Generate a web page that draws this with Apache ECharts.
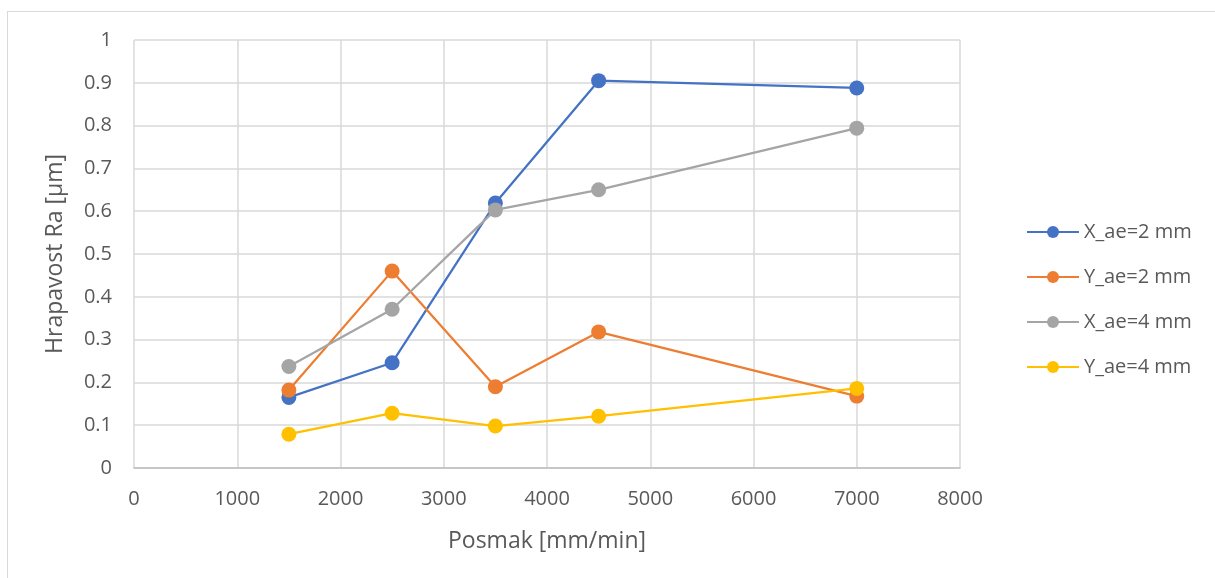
<!DOCTYPE html>
<html>
<head>
<meta charset="utf-8">
<script src="https://cdn.jsdelivr.net/npm/echarts@6/dist/echarts.min.js"></script>
<style>
body { margin: 0px; background: #fff; }
#frame { position: absolute; left: 7px; top: 11px; width: 1210px; height: 570px; border: 1px solid #d9d9d9; box-sizing: border-box; }
#main1 { width: 1215px; height: 578px; position: absolute; left: 0; top: 0; }
</style>
</head>
<body>
<div id="frame"></div>
<div id="main1"></div>
<script>
var feed = [1500, 2500, 3500, 4500, 7000];
var xAe2 = [0.165, 0.246, 0.619, 0.905, 0.888];
var yAe2 = [0.182, 0.46, 0.19, 0.318, 0.168];
var xAe4 = [0.237, 0.371, 0.603, 0.65, 0.794];
var yAe4 = [0.079, 0.128, 0.098, 0.121, 0.186];
var names = ['X_ae=2 mm', 'Y_ae=2 mm', 'X_ae=4 mm', 'Y_ae=4 mm'];
var colors = ['#4472C4', '#ED7D31', '#A5A5A5', '#FFC000'];

function pairs(vals) {
	var out = [];
	for (var i = 0; i < feed.length; i++) {
		out.push([feed[i], vals[i]]);
	}
	return out;
}

var myChart = echarts.init(document.getElementById('main1'));
var font = '"Open Sans", sans-serif';
var all = [xAe2, yAe2, xAe4, yAe4];
var series = [];
for (var k = 0; k < all.length; k++) {
	series.push({
		name: names[k],
		type: 'line',
		data: pairs(all[k]),
		symbol: 'circle',
		symbolSize: 15,
		lineStyle: { width: 2.25, color: colors[k] },
		itemStyle: { color: colors[k] },
		z: 10 + k
	});
}

var option = {
	animation: false,
	textStyle: { fontFamily: font },
	legend: {
		orient: 'vertical',
		left: 1021,
		top: 217,
		itemGap: 25,
		itemWidth: 52,
		itemHeight: 15,
		textStyle: { fontSize: 20, color: '#595959', fontFamily: font },
		data: names
	},
	grid: { left: 134, right: 255, top: 40, bottom: 110 },
	xAxis: {
		type: 'value',
		min: 0,
		max: 8000,
		interval: 1000,
		name: 'Posmak [mm/min]',
		nameLocation: 'middle',
		nameGap: 62,
		nameTextStyle: { fontSize: 23, color: '#595959' },
		axisLine: { show: true, lineStyle: { color: '#bfbfbf', width: 1.5 } },
		axisTick: { show: false },
		axisLabel: { fontSize: 20, color: '#595959', margin: 21, formatter: function (v) { return String(v); } },
		splitLine: { show: true, lineStyle: { color: '#d9d9d9', width: 1.5 } }
	},
	yAxis: {
		type: 'value',
		min: 0,
		max: 1,
		interval: 0.1,
		name: 'Hrapavost Ra [µm]',
		nameLocation: 'middle',
		nameGap: 67,
		nameTextStyle: { fontSize: 23, color: '#595959' },
		axisLine: { show: false },
		axisTick: { show: false },
		axisLabel: { fontSize: 20, color: '#595959', margin: 22 },
		splitLine: { show: true, lineStyle: { color: '#d9d9d9', width: 1.5 } }
	},
	series: series
};

myChart.setOption(option);
</script>
</body>
</html>
